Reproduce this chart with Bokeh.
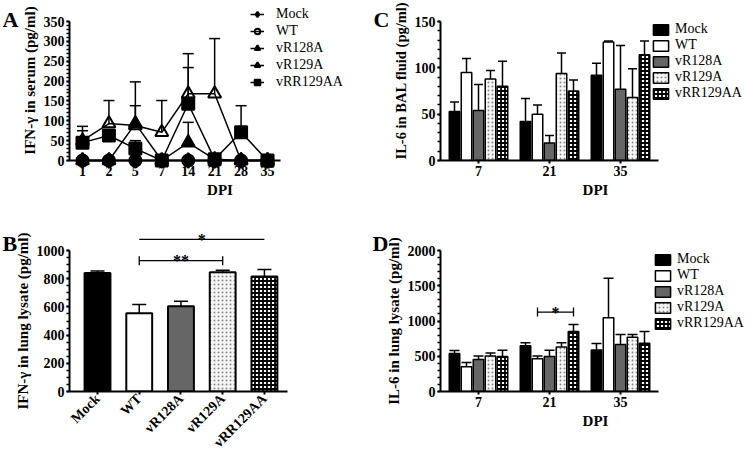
from bokeh.plotting import figure
from bokeh.layouts import row, column
from bokeh.models import (ColumnDataSource, Range1d, Legend, LegendItem,
                          SingleIntervalTicker, FixedTicker)
from bokeh.transform import dodge
from bokeh.core.properties import value
from bokeh.embed import file_html
from bokeh.resources import INLINE
import math

FONT = "Liberation Serif"

# ---------------- Panel A data: IFN-gamma in serum ----------------
days = ["1", "2", "5", "7", "14", "21", "28", "35"]
a_mock = [0, 0, 0, 0, 0, 0, 0, 0]
a_mock_err = [0, 0, 0, 0, 0, 0, 0, 0]
a_wt = [0, 0, 0, 0, 0, 0, 0, 0]
a_wt_err = [0, 0, 0, 0, 0, 0, 0, 0]
a_r128 = [0, 0, 93, 0, 45, 3, 0, 0]
a_r128_err = [0, 0, 45, 0, 51, 0, 0, 0]
a_r129 = [50, 93, 88, 71, 168, 168, 0, 0]
a_r129_err = [36, 58, 110, 80, 101, 139, 0, 0]
a_rr = [45, 63, 30, 0, 143, 3, 71, 0]
a_rr_err = [30, 0, 20, 0, 91, 0, 67, 0]

# ---------------- Panel B data: IFN-gamma in lung lysate ----------------
groups = ["Mock", "WT", "vR128A", "vR129A", "vRR129AA"]
b_mean = [840, 555, 605, 845, 815]
b_err = [15, 62, 35, 15, 50]
b_sig_left = ["WT", "WT"]
b_sig_right = ["vR129A", "vRR129AA"]
b_sig_y = [928, 1079]
b_sig_text = ["**", "*"]

# ---------------- Panel C data: IL-6 in BAL fluid ----------------
dpi = ["7", "21", "35"]
c_vals = {
    "Mock": [53, 42, 92],
    "WT": [95, 50, 128],
    "vR128A": [54, 19, 77],
    "vR129A": [88, 94, 68],
    "vRR129AA": [80, 75, 114],
}
c_errs = {
    "Mock": [10, 25, 13],
    "WT": [15, 10, 1],
    "vR128A": [28, 8, 47],
    "vR129A": [9, 22, 31],
    "vRR129AA": [27, 12, 15],
}

# ---------------- Panel D data: IL-6 in lung lysate ----------------
d_vals = {
    "Mock": [540, 650, 590],
    "WT": [350, 465, 1045],
    "vR128A": [455, 495, 665],
    "vR129A": [505, 630, 770],
    "vRR129AA": [495, 850, 685],
}
d_errs = {
    "Mock": [40, 40, 90],
    "WT": [60, 40, 560],
    "vR128A": [50, 90, 145],
    "vR129A": [40, 60, 40],
    "vRR129AA": [90, 100, 165],
}
d_sig_dpi = ["21"]
d_sig_left = ["WT"]
d_sig_right = ["vRR129AA"]
d_sig_y = [1127]
d_sig_text = ["*"]

# ---------------- styles ----------------
bar_style = {
    "Mock": dict(fill_color="black"),
    "WT": dict(fill_color="white"),
    "vR128A": dict(fill_color="#666666"),
    "vR129A": dict(fill_color="#f6f6f6", hatch_pattern="dot", hatch_color="#8a8a8a",
                   hatch_scale=4, hatch_weight=1),
    "vRR129AA": dict(fill_color="white", hatch_pattern="cross", hatch_color="black",
                     hatch_scale=4, hatch_weight=1.8),
}


def style_axes(p):
    for ax in (p.xaxis[0], p.yaxis[0]):
        ax.axis_line_width = 2
        ax.axis_line_color = "black"
        ax.major_tick_line_width = 2
        ax.major_tick_out = 3
        ax.major_tick_in = 0
        ax.minor_tick_line_width = 1.5
        ax.minor_tick_out = 3
        ax.minor_tick_in = 0
        ax.major_label_text_font = FONT
        ax.major_label_text_font_style = "bold"
        ax.major_label_text_font_size = "14px"
        ax.major_label_text_color = "black"
        ax.major_label_standoff = 2
        ax.axis_label_text_font = FONT
        ax.axis_label_text_font_style = "bold"
        ax.axis_label_text_font_size = "15px"
        ax.axis_label_text_color = "black"
        ax.axis_label_standoff = 3
    p.xaxis[0].minor_tick_line_color = None
    p.xgrid.visible = False
    p.ygrid.visible = False
    p.outline_line_color = None
    p.background_fill_color = "white"
    p.border_fill_color = "white"


def panel_letter(p, letter, geom, page_x, page_y):
    # geom: frame left / bottom inside the figure, x start, px per x unit, y start, px per y unit
    fl, fb, xs, pxu, ys, pyu = geom
    x = xs + (page_x - fl) / pxu
    y = ys + (fb - page_y) / pyu
    p.text(x=[x], y=[y], text=[letter], text_font=value(FONT), text_font_style="bold",
           text_font_size="22px", text_color="black", text_align="left",
           text_baseline="alphabetic", level="overlay")


TOP_H, BOT_H = 222, 239
LEFT_W, RIGHT_W = 370, 380
L_LEFT, L_RIGHT = 69, 0
R_LEFT, R_RIGHT = 70, 0
T_TOP, T_BOT = 0, 62
B_TOP, B_BOT = 28, 70

# ================= Panel A =================
a_idx = list(range(len(days)))
A_PXU, A_PYU = 26.43, 139 / 350
A_FW, A_FH = LEFT_W - L_LEFT - L_RIGHT, TOP_H - T_TOP - T_BOT
A_X = (-13 / A_PXU, -13 / A_PXU + A_FW / A_PXU)
A_Y = (0, A_FH / A_PYU)
pA = figure(width=LEFT_W, height=TOP_H, x_range=Range1d(*A_X), y_range=Range1d(*A_Y),
            output_backend="svg", toolbar_location=None,
            min_border_left=L_LEFT, min_border_right=L_RIGHT,
            min_border_top=T_TOP, min_border_bottom=T_BOT)
style_axes(pA)
pA.yaxis[0].ticker = SingleIntervalTicker(interval=50, num_minor_ticks=5)
pA.yaxis[0].bounds = (0, 350)
pA.yaxis[0].axis_label = "IFN-γ in serum (pg/ml)"
pA.xaxis[0].axis_label = "DPI"
pA.xaxis[0].ticker = FixedTicker(ticks=a_idx)
pA.xaxis[0].major_label_overrides = {i: d for i, d in zip(a_idx, days)}
pA.xaxis[0].bounds = (A_X[0], len(days) - 0.5)

series = [
    ("Mock", a_mock, a_mock_err, dict(marker="diamond", size=15, fill_color="black")),
    ("WT", a_wt, a_wt_err, dict(marker="circle", size=12, fill_color=None)),
    ("vR128A", a_r128, a_r128_err, dict(marker="triangle", size=13, fill_color="black")),
    ("vR129A", a_r129, a_r129_err, dict(marker="triangle", size=13, fill_color=None)),
    ("vRR129AA", a_rr, a_rr_err, dict(marker="square", size=12, fill_color="black")),
]
items = []
for name, vals, errs, mk in series:
    up = [v + e for v, e in zip(vals, errs)]
    src = ColumnDataSource(dict(x=a_idx, y=vals, up=up))
    esrc = ColumnDataSource(dict(x=[i for i, e in zip(a_idx, errs) if e > 0],
                                 y=[v for v, e in zip(vals, errs) if e > 0],
                                 up=[u for u, e in zip(up, errs) if e > 0]))
    pA.segment(x0="x", y0="y", x1="x", y1="up", source=esrc, line_color="black",
               line_width=1.5, level="overlay")
    pA.scatter(x="x", y="up", source=esrc, marker="dash", size=11, line_color="black",
               line_width=1.5, level="overlay")
    lr = pA.line(x="x", y="y", source=src, line_color="black", line_width=1.5, level="overlay")
    sr = pA.scatter(x="x", y="y", source=src, line_color="black", line_width=2,
                    level="overlay", **mk)
    items.append(LegendItem(label=name, renderers=[lr, sr]))
legA = Legend(items=items, location=(181, 70), orientation="vertical",
              padding=0, margin=0, spacing=1, glyph_width=14, glyph_height=16,
              label_height=16, label_standoff=12, label_text_font=FONT,
              label_text_font_size="14px", label_text_color="black",
              background_fill_alpha=0, border_line_color=None)
pA.add_layout(legA, "center")
panel_letter(pA, "A", (L_LEFT, TOP_H - T_BOT, A_X[0], A_PXU, 0, A_PYU), 2, 19)

# ================= Panel B =================
b_idx = list(range(len(groups)))
B_FW, B_FH = LEFT_W - L_LEFT - L_RIGHT, BOT_H - B_TOP - B_BOT
B_PXU, B_PYU = 41.73, B_FH / 1000
B_X = (-28 / B_PXU, -28 / B_PXU + B_FW / B_PXU)
pB = figure(width=LEFT_W, height=BOT_H, x_range=Range1d(*B_X), y_range=Range1d(0, 1000),
            output_backend="svg", toolbar_location=None,
            min_border_left=L_LEFT, min_border_right=L_RIGHT,
            min_border_top=B_TOP, min_border_bottom=B_BOT)
style_axes(pB)
pB.yaxis[0].ticker = SingleIntervalTicker(interval=200, num_minor_ticks=4)
pB.yaxis[0].axis_label = "IFN-γ in lung lysate (pg/ml)"
pB.xaxis[0].ticker = FixedTicker(ticks=b_idx)
pB.xaxis[0].major_label_overrides = {i: g for i, g in zip(b_idx, groups)}
pB.xaxis[0].bounds = (B_X[0], len(groups) - 0.45)
pB.xaxis[0].major_label_orientation = math.pi / 4
for i, g in enumerate(groups):
    src = ColumnDataSource(dict(x=[i], top=[b_mean[i]], up=[b_mean[i] + b_err[i]]))
    pB.segment(x0="x", y0="top", x1="x", y1="up", source=src, line_color="black", line_width=1.5)
    pB.scatter(x="x", y="up", source=src, marker="dash", size=14, line_color="black",
               line_width=1.5)
    pB.vbar(x="x", top="top", width=0.62, source=src, line_color="black", line_width=2,
            **bar_style[g])
bl = [groups.index(g) for g in b_sig_left]
br = [groups.index(g) for g in b_sig_right]
bsrc = ColumnDataSource(dict(l=bl, r=br, m=[(a + b) / 2 for a, b in zip(bl, br)],
                             y=b_sig_y, t=b_sig_text))
pB.segment(x0="l", y0="y", x1="r", y1="y", source=bsrc, line_color="black", line_width=1.3,
           level="overlay")
pB.scatter(x="l", y="y", source=bsrc, marker="dash", angle=math.pi / 2, size=9,
           line_color="black", line_width=1.3, level="overlay")
pB.scatter(x="r", y="y", source=bsrc, marker="dash", angle=math.pi / 2, size=9,
           line_color="black", line_width=1.3, level="overlay")
pB.text(x="m", y="y", text="t", source=bsrc, text_align="center", text_baseline="alphabetic",
        text_font=value(FONT), text_font_style="bold", text_font_size="16px",
        text_color="black", level="overlay")
panel_letter(pB, "B", (L_LEFT, BOT_H - B_BOT, B_X[0], B_PXU, 0, B_PYU), 2, 21)


# ================= Panels C / D =================
d_idx = list(range(len(dpi)))
CD_PXU = 71.0
OFFS = [-0.338, -0.169, 0, 0.169, 0.338]


def grouped(p, vals, errs, cap):
    items = []
    for g, off in zip(groups, OFFS):
        up = [v + e for v, e in zip(vals[g], errs[g])]
        src = ColumnDataSource(dict(xi=d_idx, top=vals[g], up=up))
        xt = dodge("xi", off)
        p.segment(x0=xt, y0="top", x1=xt, y1="up", source=src, line_color="black", line_width=1.5)
        p.scatter(x=xt, y="up", source=src, marker="dash", size=cap, line_color="black",
                  line_width=1.5)
        r = p.vbar(x=xt, top="top", width=0.148, source=src, line_color="black", line_width=1.5,
                   **bar_style[g])
        items.append(LegendItem(label=g, renderers=[r]))
    return items


def bar_legend(items, loc):
    return Legend(items=items, location=loc, orientation="vertical", padding=0, margin=0,
                  spacing=0, glyph_width=19, glyph_height=13, label_height=14,
                  label_standoff=5, label_text_font=FONT, label_text_font_size="14px",
                  label_text_color="black", background_fill_alpha=0, border_line_color=None)


def dpi_axis(p, xr):
    p.xaxis[0].ticker = FixedTicker(ticks=d_idx)
    p.xaxis[0].major_label_overrides = {i: d for i, d in zip(d_idx, dpi)}
    p.xaxis[0].bounds = (xr[0], len(dpi) - 0.465)
    p.xaxis[0].axis_label = "DPI"


CD_FW = RIGHT_W - R_LEFT - R_RIGHT
CD_X = (-38 / CD_PXU, -38 / CD_PXU + CD_FW / CD_PXU)

C_PYU = 139 / 150
C_FH = TOP_H - T_TOP - T_BOT
pC = figure(width=RIGHT_W, height=TOP_H, x_range=Range1d(*CD_X),
            y_range=Range1d(0, C_FH / C_PYU),
            output_backend="svg", toolbar_location=None,
            min_border_left=R_LEFT, min_border_right=R_RIGHT,
            min_border_top=T_TOP, min_border_bottom=T_BOT)
style_axes(pC)
pC.yaxis[0].ticker = SingleIntervalTicker(interval=50, num_minor_ticks=5)
pC.yaxis[0].bounds = (0, 150)
pC.yaxis[0].axis_label = "IL-6 in BAL fluid (pg/ml)"
pC.yaxis[0].axis_label_text_font_size = "14.5px"
dpi_axis(pC, CD_X)
itemsC = grouped(pC, c_vals, c_errs, 9)
pC.add_layout(bar_legend(itemsC, (211, 59)), "center")
panel_letter(pC, "C", (R_LEFT, TOP_H - T_BOT, CD_X[0], CD_PXU, 0, C_PYU), 3, 19)

D_FH = BOT_H - B_TOP - B_BOT
D_PYU = D_FH / 2000
pD = figure(width=RIGHT_W, height=BOT_H, x_range=Range1d(*CD_X), y_range=Range1d(0, 2000),
            output_backend="svg", toolbar_location=None,
            min_border_left=R_LEFT, min_border_right=R_RIGHT,
            min_border_top=B_TOP, min_border_bottom=B_BOT)
style_axes(pD)
pD.yaxis[0].ticker = SingleIntervalTicker(interval=500, num_minor_ticks=5)
pD.yaxis[0].axis_label = "IL-6 in lung lysate (pg/ml)"
dpi_axis(pD, CD_X)
itemsD = grouped(pD, d_vals, d_errs, 10)
pD.add_layout(bar_legend(itemsD, (213, 60)), "center")
dsrc = ColumnDataSource(dict(xi=[dpi.index(d) for d in d_sig_dpi], y=d_sig_y, t=d_sig_text))
ol = OFFS[groups.index(d_sig_left[0])]
orr = OFFS[groups.index(d_sig_right[0])]
xl = dodge("xi", ol)
xr = dodge("xi", orr)
pD.segment(x0=xl, y0="y", x1=xr, y1="y", source=dsrc, line_color="black", line_width=1.3)
pD.scatter(x=xl, y="y", source=dsrc, marker="dash", angle=math.pi / 2, size=9,
           line_color="black", line_width=1.3)
pD.scatter(x=xr, y="y", source=dsrc, marker="dash", angle=math.pi / 2, size=9,
           line_color="black", line_width=1.3)
pD.text(x=dodge("xi", (ol + orr) / 2), y="y", text="t", source=dsrc,
        text_align="center", text_baseline="alphabetic", text_font=value(FONT),
        text_font_style="bold", text_font_size="16px", text_color="black")
panel_letter(pD, "D", (R_LEFT, BOT_H - B_BOT, CD_X[0], CD_PXU, 0, D_PYU), 2, 21)

layout = row(column(pA, pB), column(pC, pD))
open("out.html", "w").write(file_html(layout, INLINE))
